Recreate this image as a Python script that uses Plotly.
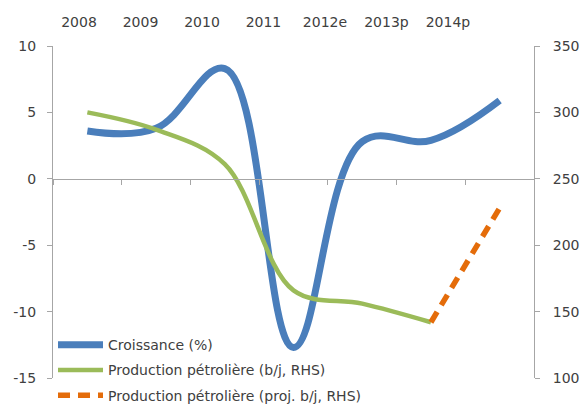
import plotly.graph_objects as go

categories = ["2008", "2009", "2010", "2011", "2012e", "2013p", "2014p"]
croissance = [3.6, 3.8, 8.3, -12.7, 2.8, 2.9, 5.9]
production_years = ["2008", "2009", "2010", "2011", "2012e", "2013p"]
production = [300, 287, 261, 166, 156, 142]
proj_years = ["2013p", "2014p"]
proj_production = [142, 228]
left_ticks = [-15, -10, -5, 0, 5, 10]
right_ticks = [100, 150, 200, 250, 300, 350]

FONT = "DejaVu Sans"
TXT = "#404040"
AX = "#A6A6A6"

fig = go.Figure()
fig.add_trace(go.Scatter(
    x=categories, y=croissance, name="Croissance (%)", mode="lines",
    line=dict(color="#4A7EBB", width=7, shape="spline", smoothing=1.1),
    legendgroup="a"))
fig.add_trace(go.Scatter(
    x=production_years, y=production, name="Production pétrolière (b/j, RHS)",
    mode="lines", yaxis="y2",
    line=dict(color="#9BBB59", width=4.5, shape="spline", smoothing=1.0),
    legendgroup="b"))
fig.add_trace(go.Scatter(
    x=proj_years, y=proj_production, name="Production pétrolière (proj. b/j, RHS)",
    mode="lines", yaxis="y2",
    line=dict(color="#E46C0A", width=5.5, dash="12px,8px"),
    legendgroup="c"))
# invisible trace to activate the top category-label axis
fig.add_trace(go.Scatter(x=[0], y=[0], xaxis="x2", mode="markers",
                         marker=dict(opacity=0), showlegend=False, hoverinfo="skip"))

fig.update_layout(
    width=584, height=404,
    margin=dict(l=53, r=50, t=46, b=26, autoexpand=False),
    paper_bgcolor="white", plot_bgcolor="white",
    font=dict(family=FONT, size=14, color=TXT),
    showlegend=True,
    legend=dict(x=0.0, y=0.147, xanchor="left", yanchor="top",
                bgcolor="rgba(0,0,0,0)", font=dict(size=14, family=FONT, color=TXT),
                traceorder="grouped", tracegroupgap=4, itemwidth=45),
    xaxis=dict(type="category", categoryorder="array", categoryarray=categories,
               range=[-0.5, 6.5], anchor="free", position=0.6, automargin=False,
               showline=True, linecolor=AX, linewidth=1,
               ticks="outside", tickson="boundaries", ticklen=5, tickcolor=AX,
               showticklabels=False, showgrid=False, zeroline=False),
    xaxis2=dict(overlaying="x", side="top", anchor="y", range=[-0.423, 7.40],
                tickmode="array", tickvals=list(range(len(categories))),
                ticktext=categories, ticks="", showline=False, showgrid=False,
                zeroline=False, ticklabelstandoff=15, automargin=False,
                tickfont=dict(family=FONT, size=14, color=TXT)),
    yaxis=dict(range=[-15, 10], tickmode="array", tickvals=left_ticks,
               ticktext=[str(v) for v in left_ticks],
               showline=True, linecolor=AX, automargin=False,
               ticks="outside", ticklen=5, tickcolor=AX, showgrid=False,
               zeroline=False, ticklabelstandoff=8,
               tickfont=dict(family=FONT, size=14, color=TXT)),
    yaxis2=dict(range=[100, 350], tickmode="array", tickvals=right_ticks,
                ticktext=[str(v) for v in right_ticks],
                overlaying="y", side="right", automargin=False,
                anchor="x", showline=True, linecolor=AX, ticks="outside",
                ticklen=5, tickcolor=AX, showgrid=False, zeroline=False,
                ticklabelstandoff=10,
                tickfont=dict(family=FONT, size=14, color=TXT)),
)

fig.write_html("out.html", config={"displayModeBar": False},
               post_script="document.body.style.margin='0';document.body.style.overflow='hidden';")
